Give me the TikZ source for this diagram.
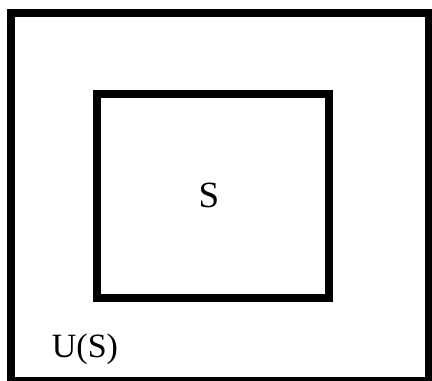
\documentclass[tikz,border=0pt]{standalone}
\usepackage{fontspec}
\setmainfont{Liberation Serif}
\begin{document}
\begin{tikzpicture}[x=1pt,y=-1pt,
  frame/.style={draw=black,line width=8pt},
  lbl/.style={inner sep=0pt,anchor=base}]
\useasboundingbox (0,0) rectangle (432,381);
\begin{scope}
\clip (0,0) rectangle (432,381);
\draw[frame] (11,13) rectangle (429,381);
\end{scope}
\node[frame,minimum width=232pt,minimum height=204pt,inner sep=0pt] (inner) at (213,196) {};
\node[lbl,font=\fontsize{37}{42}\selectfont] (s) at (209,207) {S};
\node[lbl,font=\fontsize{34}{40}\selectfont] (us) at (85,357) {U(S)};
\end{tikzpicture}
\end{document}
